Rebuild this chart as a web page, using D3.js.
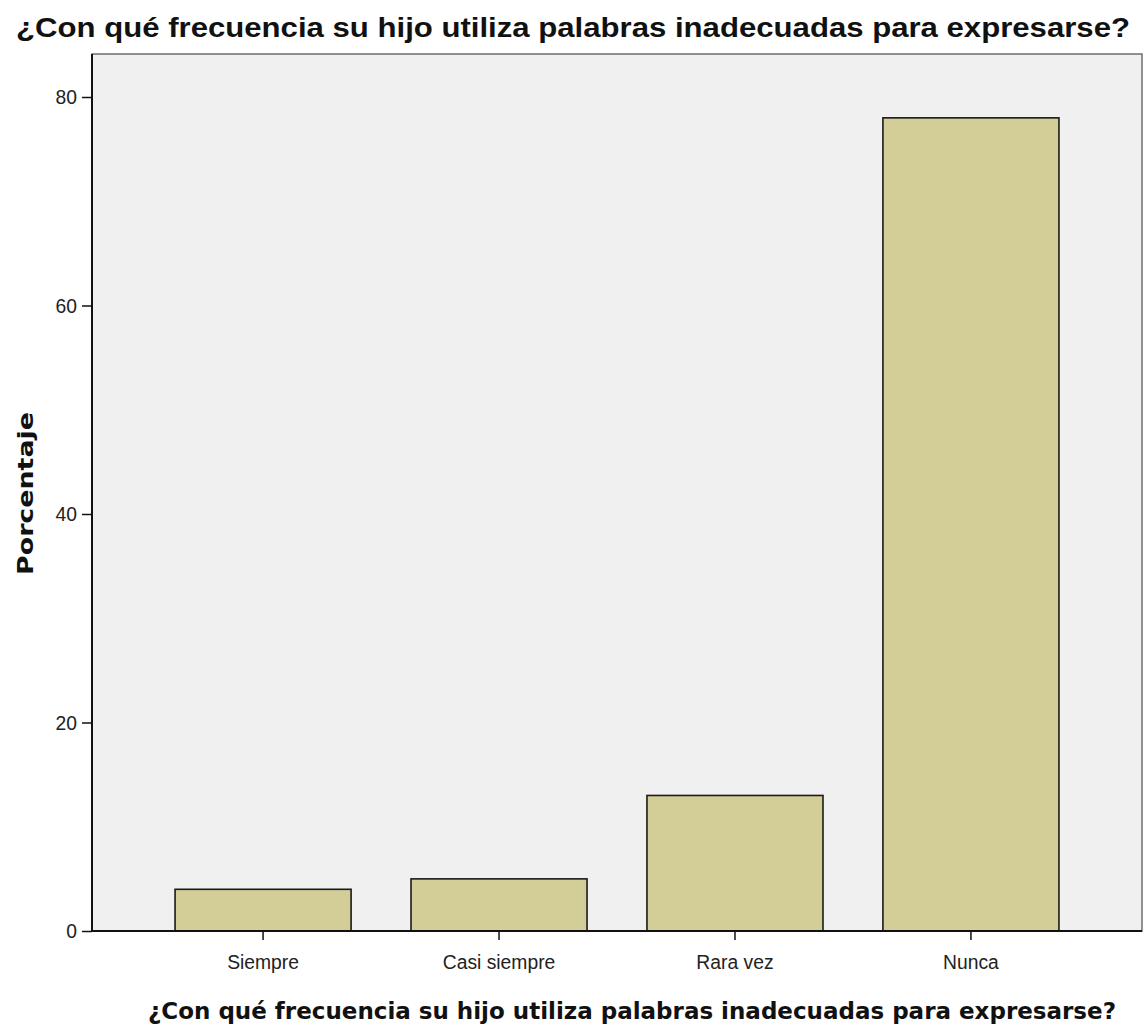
<!DOCTYPE html>
<html>
<head>
<meta charset="utf-8">
<script src="https://cdn.jsdelivr.net/npm/d3@7"></script>
<style>
  body { margin: 0; background: #fff; }
  svg { display: block; }
</style>
</head>
<body>
<svg id="chart" width="1147" height="1029"></svg>
<script>
// data
var categories = ["Siempre", "Casi siempre", "Rara vez", "Nunca"];
var percentages = [4, 5, 13, 78];
var yTicks = [0, 20, 40, 60, 80];
var titleText = "¿Con qué frecuencia su hijo utiliza palabras inadecuadas para expresarse?";
var yLabel = "Porcentaje";

var margin = {top: 54, right: 5, bottom: 98, left: 92};
var svg = d3.select("#chart");
var width = +svg.attr("width") - margin.left - margin.right;
var height = +svg.attr("height") - margin.top - margin.bottom;
var tickFont = "'Liberation Sans', Arial, sans-serif";
var squeeze = 0.92; // tick labels are a narrow face in the original

var g = svg.append("g").attr("transform", "translate(" + margin.left + "," + margin.top + ")");

var x = d3.scaleBand()
    .domain(categories)
    .range([0, width])
    .paddingInner(0.254)
    .paddingOuter(0.352);

var y = d3.scaleLinear()
    .domain([0, 80])
    .range([height, height - 80 * 10.425]);

// plot background + frame
g.append("rect")
    .attr("x", 0).attr("y", 0)
    .attr("width", width).attr("height", height)
    .attr("fill", "#f0f0f0")
    .attr("stroke", "#6e6e6e")
    .attr("stroke-width", 1.5);

// bars
g.selectAll(".bar")
  .data(percentages)
  .enter().append("rect")
    .attr("class", "bar")
    .attr("x", function(d, i) { return x(categories[i]); })
    .attr("y", function(d) { return y(d); })
    .attr("width", x.bandwidth())
    .attr("height", function(d) { return y(0) - y(d); })
    .attr("fill", "#d3ce97")
    .attr("stroke", "#1a1a1a")
    .attr("stroke-width", 1.6);

// y axis
var yAxis = g.append("g")
    .call(d3.axisLeft(y).tickValues(yTicks).tickSize(10).tickSizeOuter(0));
yAxis.select(".domain").attr("stroke", "#111").attr("stroke-width", 2)
    .attr("d", "M0," + height + "V0");
yAxis.selectAll(".tick line").attr("stroke", "#111").attr("stroke-width", 1.5);
yAxis.selectAll("text")
    .attr("x", -15 / squeeze)
    .attr("transform", "scale(" + squeeze + ",1)")
    .attr("font-family", tickFont)
    .attr("font-size", "21px")
    .attr("fill", "#222");

// x axis
var xAxis = g.append("g")
    .attr("transform", "translate(0," + height + ")")
    .call(d3.axisBottom(x).tickSize(9).tickSizeOuter(0));
xAxis.select(".domain").attr("stroke", "#111").attr("stroke-width", 2)
    .attr("d", "M0,0H" + width);
xAxis.selectAll(".tick line").attr("stroke", "#111").attr("stroke-width", 1.5);
xAxis.selectAll("text")
    .attr("y", 38)
    .attr("dy", null)
    .attr("transform", "scale(" + squeeze + ",1)")
    .attr("font-family", tickFont)
    .attr("font-size", "21px")
    .attr("fill", "#222");

// titles
svg.append("text")
    .attr("x", 16)
    .attr("y", 37)
    .attr("textLength", 1114)
    .attr("lengthAdjust", "spacingAndGlyphs")
    .attr("font-family", "'Liberation Sans', Arial, sans-serif")
    .attr("font-weight", "bold")
    .attr("font-size", "27px")
    .attr("fill", "#111")
    .text(titleText);

svg.append("text")
    .attr("x", 148)
    .attr("y", 1019)
    .attr("textLength", 968)
    .attr("lengthAdjust", "spacingAndGlyphs")
    .attr("font-family", "'DejaVu Sans', sans-serif")
    .attr("font-weight", "bold")
    .attr("font-size", "23px")
    .attr("fill", "#111")
    .text(titleText);

svg.append("text")
    .attr("transform", "translate(33,575) rotate(-90)")
    .attr("textLength", 163)
    .attr("lengthAdjust", "spacingAndGlyphs")
    .attr("font-family", "'DejaVu Sans', sans-serif")
    .attr("font-weight", "bold")
    .attr("font-size", "22px")
    .attr("fill", "#111")
    .text(yLabel);
</script>
</body>
</html>
